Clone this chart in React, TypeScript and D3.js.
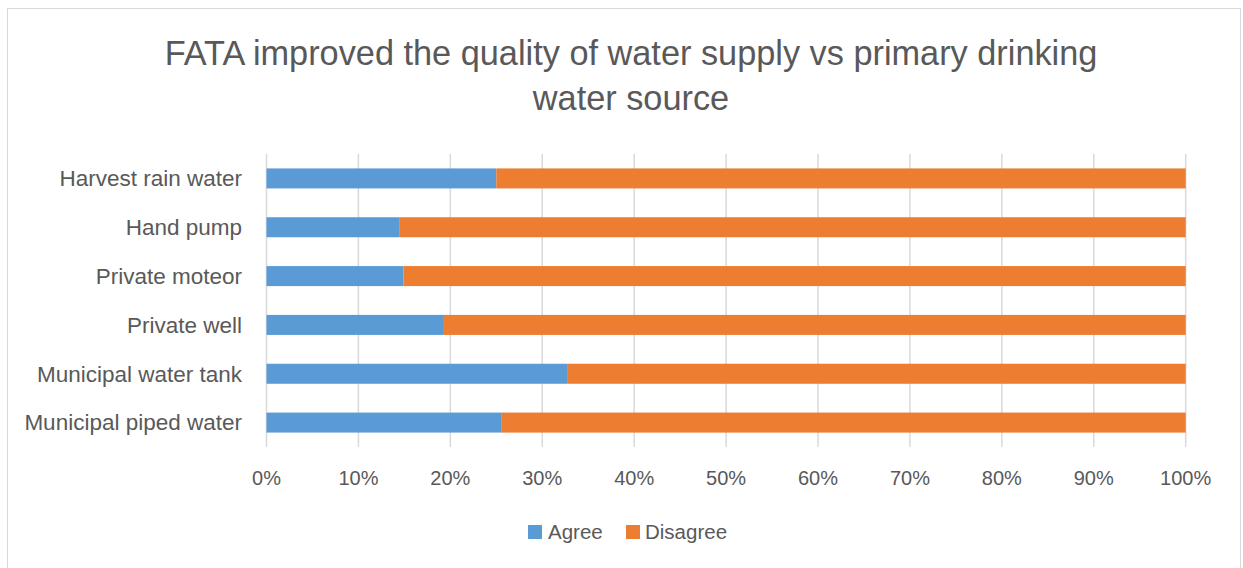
import React from "react";
import * as d3 from "d3";

const categories = [
  "Harvest rain water",
  "Hand pump",
  "Private moteor",
  "Private well",
  "Municipal water tank",
  "Municipal piped water",
];
const agree = [25.0, 14.5, 14.9, 19.2, 32.7, 25.6];
const disagree = agree.map((a) => 100 - a);
const seriesNames = ["Agree", "Disagree"];
const seriesColors = ["#5B9BD5", "#ED7D31"];
const xTicks = [0, 10, 20, 30, 40, 50, 60, 70, 80, 90, 100];
const titleLines = [
  "FATA improved the quality of water supply vs primary drinking",
  "water source",
];

const W = 1243;
const H = 568;
const FONT = "'Liberation Sans', Arial, sans-serif";
const TEXT = "#595959";

export default function App() {
  const x = d3.scaleLinear().domain([0, 100]).range([266.5, 1185.7]);
  const y = d3.scaleBand().domain(categories).range([154, 447]).paddingInner(0.59).paddingOuter(0.295);
  const rows = categories.map((c, i) => ({ c, vals: [agree[i], disagree[i]] }));
  const stack = d3.stack<any>().keys(["0", "1"]).value((d: any, k: string) => d.vals[+k]);
  const stacked = stack(rows as any);

  return (
    <svg width={W} height={H} style={{ position: "absolute", left: 0, top: 0, background: "#fff" }} fontFamily={FONT}>
      <rect x={7.5} y={8.5} width={1233} height={570} fill="#fff" stroke="#D9D9D9" strokeWidth={1} />
      {titleLines.map((t, i) => (
        <text key={i} x={631} y={65 + i * 45} textAnchor="middle" fontSize={34.3} fill={TEXT}>
          {t}
        </text>
      ))}
      {xTicks.map((t) => (
        <line key={t} x1={x(t)} x2={x(t)} y1={154} y2={447} stroke="#D9D9D9" strokeWidth={1.5} />
      ))}
      {stacked.map((s, si) =>
        s.map((d: any, i: number) => (
          <rect
            key={si + "-" + i}
            x={x(d[0])}
            width={x(d[1]) - x(d[0])}
            y={y(categories[i])!}
            height={y.bandwidth()}
            fill={seriesColors[si]}
          />
        ))
      )}
      {categories.map((c) => (
        <text key={c} x={242} y={y(c)! + y.bandwidth() / 2} dy="0.35em" textAnchor="end" fontSize={22.5} fill={TEXT}>
          {c}
        </text>
      ))}
      {xTicks.map((t) => (
        <text key={t} x={x(t)} y={485} textAnchor="middle" fontSize={20} fill={TEXT}>
          {t + "%"}
        </text>
      ))}
      <g>
        <rect x={528} y={525} width={14} height={14} fill={seriesColors[0]} />
        <text x={548} y={539} fontSize={20.5} fill={TEXT}>{seriesNames[0]}</text>
        <rect x={626} y={525} width={14} height={14} fill={seriesColors[1]} />
        <text x={645} y={539} fontSize={20.5} fill={TEXT}>{seriesNames[1]}</text>
      </g>
    </svg>
  );
}
